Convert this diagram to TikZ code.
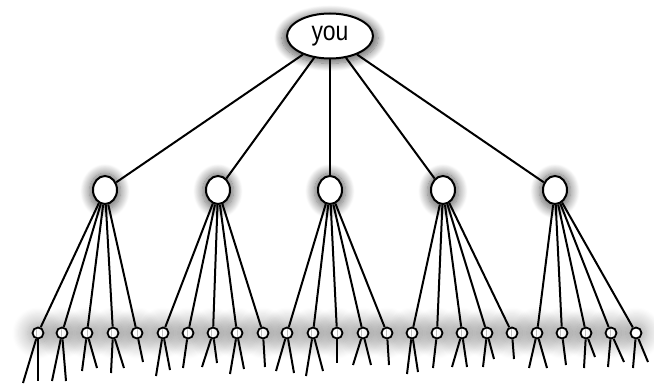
\documentclass[tikz,border=0pt]{standalone}
\usepackage{fontspec}
\setsansfont{Liberation Sans}
\usetikzlibrary{shapes.geometric,shadows.blur}

\begin{document}
\begin{tikzpicture}[x=1pt, y=-1pt,
  glow/.style={blur shadow={shadow xshift=0pt, shadow yshift=-1pt, shadow scale=1.3, shadow blur radius=7pt, shadow blur steps=14, shadow opacity=60}},
  rootnode/.style={ellipse, draw=black, fill=white, line width=2pt, minimum width=86pt, minimum height=45pt, inner sep=0pt,
    blur shadow={shadow xshift=0pt, shadow yshift=-2pt, shadow scale=1.12, shadow blur radius=7pt, shadow blur steps=14, shadow opacity=60},
    font=\sffamily\fontsize{27}{27}\selectfont},
  hubnode/.style={ellipse, draw=black, fill=white, line width=2pt, minimum width=24pt, minimum height=28pt, inner sep=0pt, glow},
  leafnode/.style={circle, draw=black, fill=white, line width=1.8pt, minimum size=11pt, inner sep=0pt,
    blur shadow={shadow xshift=0pt, shadow yshift=0pt, shadow scale=1.9, shadow blur radius=8pt, shadow blur steps=14, shadow opacity=35}},
  link/.style={draw=black, line width=2pt}]
  \useasboundingbox (0,0) rectangle (654,385);
  % top
  \node[rootnode] (you) at (330,36) {\scalebox{0.85}[1]{you}};
  % first ring
  \node[hubnode] (h1) at (105,190) {};
  \node[hubnode] (h2) at (218,190) {};
  \node[hubnode] (h3) at (330,190) {};
  \node[hubnode] (h4) at (443,190) {};
  \node[hubnode] (h5) at (555,190) {};
  % second ring
  \node[leafnode] (l1) at (38,333) {};
  \node[leafnode] (l2) at (62,333) {};
  \node[leafnode] (l3) at (87,333) {};
  \node[leafnode] (l4) at (113,333) {};
  \node[leafnode] (l5) at (137,333) {};
  \node[leafnode] (l6) at (163,333) {};
  \node[leafnode] (l7) at (188,333) {};
  \node[leafnode] (l8) at (213,333) {};
  \node[leafnode] (l9) at (237,333) {};
  \node[leafnode] (l10) at (263,333) {};
  \node[leafnode] (l11) at (287,333) {};
  \node[leafnode] (l12) at (313,333) {};
  \node[leafnode] (l13) at (337,333) {};
  \node[leafnode] (l14) at (363,333) {};
  \node[leafnode] (l15) at (387,333) {};
  \node[leafnode] (l16) at (412,333) {};
  \node[leafnode] (l17) at (437,333) {};
  \node[leafnode] (l18) at (462,333) {};
  \node[leafnode] (l19) at (487,333) {};
  \node[leafnode] (l20) at (512,333) {};
  \node[leafnode] (l21) at (537,333) {};
  \node[leafnode] (l22) at (562,333) {};
  \node[leafnode] (l23) at (586,333) {};
  \node[leafnode] (l24) at (611,333) {};
  \node[leafnode] (l25) at (636,333) {};
  % links
  \foreach \h in {1,...,5} \draw[link] (you) -- (h\h);
  \foreach \h/\a/\b in {1/1/5, 2/6/10, 3/11/15, 4/16/20, 5/21/25}
    \foreach \l in {\a,...,\b} \draw[link] (h\h) -- (l\l);
  % loose ends
  \foreach \l/\x/\y [count=\i] in {1/23/383, 1/38/381, 2/52/381, 2/66/381, 3/82/371, 3/97/368,
      4/111/373, 4/124/368, 5/143/362, 6/156/376, 6/170/370, 7/183/368, 8/202/367, 8/217/363,
      9/230/374, 9/244/369, 10/265/367, 11/276/371, 11/294/373, 12/306/376, 12/323/371,
      13/337/363, 14/353/365, 14/371/365, 15/389/365, 16/407/374, 16/418/372, 17/433/368,
      18/452/367, 18/467/367, 19/483/367, 19/494/359, 20/514/359, 21/529/368, 21/547/368,
      22/566/365, 23/584/368, 23/595/357, 24/608/367, 24/624/362, 25/633/368, 25/648/362} {
    \coordinate (t\i) at (\x,\y);
    \draw[link] (l\l) -- (t\i);
  }
\end{tikzpicture}
\end{document}
